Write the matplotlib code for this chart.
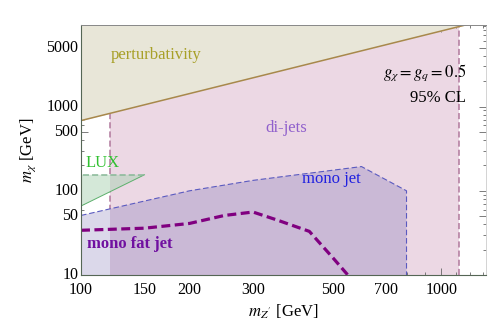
import matplotlib
matplotlib.use("Agg")
import matplotlib.pyplot as plt
from matplotlib.patches import Rectangle
from matplotlib.transforms import ScaledTranslation
from matplotlib.ticker import FixedLocator, NullFormatter, FixedFormatter

plt.rcParams['font.family'] = ['Liberation Serif', 'DejaVu Serif']
plt.rcParams['mathtext.fontset'] = 'stix'

# ---- data ----
x_limits = [100, 1330]
y_limits = [10, 9300]
pert_x = [100, 1330]
pert_y = [682, 10700]
dijet_x = [120, 1120]
lux_x = [100, 150, 100]
lux_y = [66, 155, 155]
mono_x = [100, 200, 300, 600, 800, 800, 100]
mono_y = [51, 100, 133, 194, 100, 10, 10]
fat_x = [100, 150, 200, 250, 300, 350, 430, 500, 550]
fat_y = [34, 36, 41, 51, 56, 45, 33, 16, 10]
x_major = [100, 150, 200, 300, 500, 700, 1000]
x_minor = [110, 120, 130, 140, 160, 170, 180, 190, 250, 400, 600, 800, 900, 1100, 1200, 1300]
y_major = [10, 50, 100, 500, 1000, 5000]
y_minor = [20, 30, 40, 60, 70, 80, 90, 200, 300, 400, 600, 700, 800, 900,
           2000, 3000, 4000, 6000, 7000, 8000, 9000]

fig = plt.figure(figsize=(4.91, 3.33), dpi=100)
ax = fig.add_axes([0.165, 0.174, 0.825, 0.751])
ax.set_xscale('log')
ax.set_yscale('log')
ax.set_xlim(*x_limits)
ax.set_ylim(*y_limits)

# clip regions
left_clip = Rectangle((x_limits[0], y_limits[0]), dijet_x[0] - x_limits[0],
                      y_limits[1] * 10, transform=ax.transData)
mid_clip = Rectangle((dijet_x[0], y_limits[0]), dijet_x[1] - dijet_x[0],
                     y_limits[1] * 10, transform=ax.transData)

# di-jets region
ax.axvspan(dijet_x[0], dijet_x[1], color='#ecd8e4', lw=0, zorder=1)
for xv in dijet_x:
    ax.axvline(xv, color='#b0789c', lw=1.1, ls=(0, (4, 2)), zorder=2)

# LUX region
p = ax.fill(lux_x, lux_y, color='#d4e8d8', lw=0, zorder=3)[0]
p.set_clip_path(left_clip)
p = ax.fill(lux_x, lux_y, color='#cad4cb', lw=0, zorder=3)[0]
p.set_clip_path(mid_clip)
ax.plot(lux_x[:2], lux_y[:2], color='#5cb06c', lw=0.7, zorder=4)
ax.plot(lux_x[1:], lux_y[1:], color='#88b898', lw=1.1, ls=(0, (4, 2)), zorder=4)

# mono jet region
p = ax.fill(mono_x, mono_y, color='#dbd8ea', lw=0, zorder=3)[0]
p.set_clip_path(left_clip)
p = ax.fill(mono_x, mono_y, color='#cab9d6', lw=0, zorder=3)[0]
p.set_clip_path(mid_clip)
ax.plot(mono_x[:6], mono_y[:6], color='#5a5ac0', lw=0.8, ls=(0, (5, 2.5)), zorder=4)

# perturbativity region
ax.fill_between(pert_x, pert_y, [y_limits[1] * 10] * len(pert_x), color='#e8e6d8',
                lw=0, zorder=5)
ax.plot(pert_x, pert_y, color='#a8884c', lw=1.1, zorder=6)

# mono fat jet
ax.plot(fat_x, fat_y, color='#800080', lw=2.3, ls=(0, (2.8, 1.4)), zorder=7)

# labels
tk = dict(transform=ax.transAxes, ha='center', va='center', zorder=8, fontsize=12)
ax.text(0.185, 0.88, 'perturbativity', color='#a8a028', **tk)
ax.text(0.506, 0.588, 'di-jets', color='#9060cc', **tk)
ax.text(0.052, 0.448, 'LUX', color='#30c030', **tk)
ax.text(0.617, 0.384, 'mono jet', color='#2020e0', **tk)
ax.text(0.121, 0.124, 'mono fat jet', color='#7010a0', fontweight='bold', **tk)
ax.text(0.951, 0.808, r'$g_\chi = g_q = 0.5$', transform=ax.transAxes, fontsize=12,
        ha='right', va='center', zorder=8)
ax.text(0.951, 0.708, '95% CL', transform=ax.transAxes, fontsize=12,
        ha='right', va='center', zorder=8)

ax.set_xlabel(r"$m_{Z^\prime}$ [GeV]", fontsize=12)
ax.set_ylabel(r"$m_\chi$ [GeV]", fontsize=12)
ax.xaxis.set_label_coords(0.5, -0.112)
ax.yaxis.set_label_coords(-0.106, 0.5)

# ticks
ax.xaxis.set_major_locator(FixedLocator(x_major))
ax.xaxis.set_major_formatter(FixedFormatter([str(v) for v in x_major]))
ax.xaxis.set_minor_locator(FixedLocator(x_minor))
ax.xaxis.set_minor_formatter(NullFormatter())
ax.yaxis.set_major_locator(FixedLocator(y_major))
ax.yaxis.set_major_formatter(FixedFormatter([str(v) for v in y_major]))
ax.yaxis.set_minor_locator(FixedLocator(y_minor))
ax.yaxis.set_minor_formatter(NullFormatter())
ax.tick_params(which='both', direction='in', top=True, right=True, labelsize=11.5,
               color='#666666', width=0.6)
ax.tick_params(which='major', length=5)
ax.tick_params(axis='x', which='major', pad=5)
ax.tick_params(axis='y', which='major', pad=2)
ax.tick_params(which='minor', length=2.5)
shift_up = ScaledTranslation(0, 1.3 / 72, fig.dpi_scale_trans)
for lbl in ax.get_yticklabels():
    lbl.set_transform(lbl.get_transform() + shift_up)
for s in ['left', 'bottom']:
    ax.spines[s].set_color('#556655')
    ax.spines[s].set_linewidth(0.8)
ax.spines['top'].set_color('#888888')
ax.spines['top'].set_linewidth(0.7)
ax.spines['right'].set_color('#cccccc')
ax.spines['right'].set_linewidth(0.6)
for sp in ax.spines.values():
    sp.set_zorder(10)

fig.savefig('out.png', dpi=100)
